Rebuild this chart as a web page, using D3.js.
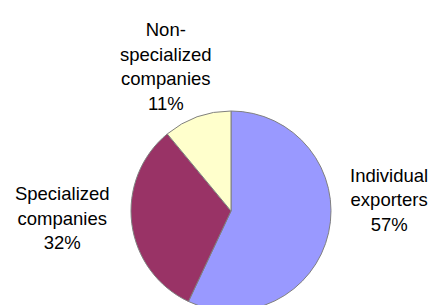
<html lang="en">
<head>
  <meta charset="UTF-8">
  <title>Exporters pie</title>
  <style>
    body { margin: 0; background: #fff; }
    text { font-family: "Liberation Sans", Arial, sans-serif; fill: #000; }
  </style>
</head>
<body>
  <div id="my_dataviz"></div>
  <script src="https://d3js.org/d3.v7.min.js"></script>
  <script>

    // data
    const categories = ["Individual exporters", "Specialized companies", "Non-specialized companies"];
    const shares = [57, 32, 11];
    const colors = ["#9999ff", "#993366", "#ffffcc"];

    const width = 430, height = 305;
    const cx = 231, cy = 211, radius = 100;

    const svg = d3.select("#my_dataviz")
      .append("svg")
      .attr("width", width)
      .attr("height", height);

    const g = svg.append("g")
      .attr("transform", `translate(${cx},${cy})`);

    // pie starts at 12 o'clock and goes clockwise, keep data order
    const pie = d3.pie().sort(null).value(d => d.value);
    const data = categories.map((c, i) => ({ name: c, value: shares[i], color: colors[i] }));
    const arcs = pie(data);

    const arc = d3.arc().innerRadius(0).outerRadius(radius);

    g.selectAll("path")
      .data(arcs)
      .join("path")
      .attr("d", arc)
      .attr("fill", d => d.data.color)
      .attr("stroke", "#808080")
      .attr("stroke-width", 1);

    // labels sit outside the pie, nudged like Excel's best fit
    const labelArc = d3.arc().innerRadius(160).outerRadius(160);
    const nudge = [[2, -46], [-10, -13], [-11, 6]];
    const lineH = 24.5;

    function wrap(name) {
      // break on spaces and after hyphens
      return name.split(" ").flatMap(w => w.includes("-") ? w.replace(/-/g, "-\n").split("\n") : [w]);
    }

    arcs.forEach((d, i) => {
      const [lx, ly] = labelArc.centroid(d);
      const lines = wrap(d.data.name).concat([d.data.value + "%"]);
      const t = g.append("text")
        .attr("text-anchor", "middle")
        .style("font-size", "18.5px");
      const x = lx + nudge[i][0];
      const y0 = ly + nudge[i][1] - (lines.length - 1) * lineH / 2 + 6.5;
      lines.forEach((l, j) => {
        t.append("tspan")
          .attr("x", x)
          .attr("y", y0 + j * lineH)
          .text(l);
      });
    });

  </script>
</body>
</html>
